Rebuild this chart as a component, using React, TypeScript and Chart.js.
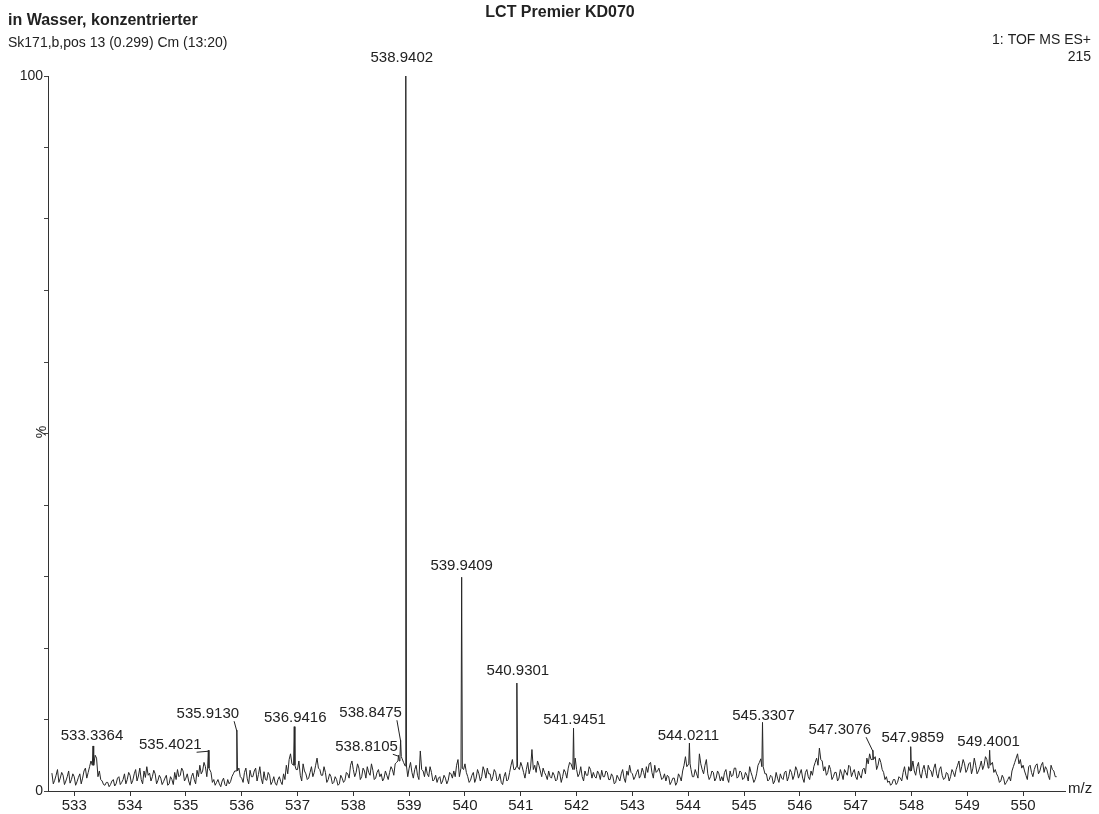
import React, { useEffect, useRef } from "react";
import { Chart, registerables } from "chart.js";

Chart.register(...registerables);

// ---------- DATA ----------
const titleLeft = "in Wasser, konzentrierter";
const subTitle = "Sk171,b,pos 13 (0.299) Cm (13:20)";
const titleCenter = "LCT Premier KD070";
const infoLine1 = "1: TOF MS ES+";
const infoLine2 = "215";
const yAxisTitle = "%";
const xAxisTitle = "m/z";

const xTickValues = [533, 534, 535, 536, 537, 538, 539, 540, 541, 542, 543, 544, 545, 546, 547, 548, 549, 550];
const yTickValues = [0, 10, 20, 30, 40, 50, 60, 70, 80, 90, 100];
const yTickLabelValues = [0, 100];

// baseline noise, sampled every 0.05 m/z from 532.600 to 550.600 (% intensity)
const noiseStart = 532.6;
const noiseStep = 0.05;
const noise = [
  2.5, 1.5, 3.0, 1.8, 2.2, 1.4, 2.8, 1.6, 2.0, 1.3, 2.4, 1.8, 3.2, 2.6, 4.2, 3.8, 4.6, 2.8, 1.4, 0.8,
  1.2, 0.9, 1.6, 1.0, 2.0, 1.2, 2.4, 1.6, 2.2, 1.5, 3.0, 2.1, 1.6, 2.8, 3.4, 2.5, 2.0, 2.4, 1.5, 1.8,
  1.3, 2.2, 1.0, 1.6, 2.6, 3.0, 2.2, 2.8, 1.8, 1.4, 2.0, 1.6, 2.9, 3.6, 2.8, 3.4, 3.8, 2.6, 1.6, 1.2,
  1.0, 1.4, 0.9, 1.6, 1.3, 2.4, 4.0, 3.2, 1.8, 2.6, 1.7, 2.9, 2.0, 3.2, 2.3, 1.8, 2.7, 1.5, 2.2, 1.3,
  1.1, 1.6, 1.3, 2.4, 3.6, 4.4, 3.8, 4.0, 3.0, 2.2, 3.8, 2.4, 1.8, 3.4, 2.6, 4.6, 3.0, 2.2, 2.6, 1.6,
  2.0, 1.2, 1.6, 1.0, 1.8, 1.5, 2.4, 3.6, 3.0, 2.6, 3.2, 2.0, 2.8, 3.4, 2.2, 2.9, 1.8, 3.0, 2.4, 1.8,
  2.2, 2.6, 3.0, 3.8, 4.5, 5.5, 4.0, 2.5, 3.2, 2.6, 3.0, 2.2, 5.6, 2.8, 3.4, 2.0, 2.6, 1.6, 1.2, 2.0,
  1.4, 1.8, 1.5, 2.4, 2.8, 3.6, 2.0, 3.0, 3.8, 2.0, 1.5, 2.6, 1.8, 2.4, 2.0, 2.8, 3.2, 2.4, 2.0, 2.6,
  1.6, 1.2, 2.0, 1.4, 2.6, 4.4, 3.0, 2.5, 4.0, 2.6, 3.0, 2.4, 5.8, 3.6, 4.2, 2.8, 3.2, 2.2, 2.8, 1.8,
  2.2, 1.6, 2.4, 2.0, 2.6, 3.2, 3.8, 3.0, 3.0, 2.4, 2.0, 2.8, 2.2, 3.0, 2.6, 1.8, 2.4, 2.9, 2.0, 2.6,
  1.6, 2.0, 1.2, 1.8, 2.4, 1.8, 2.8, 3.6, 2.4, 2.0, 3.0, 2.2, 2.6, 3.4, 3.8, 2.6, 3.6, 2.8, 2.4, 1.8,
  1.4, 2.0, 1.3, 1.8, 1.2, 2.0, 2.8, 4.8, 5.0, 3.0, 2.0, 2.4, 5.2, 3.0, 3.6, 2.4, 2.0, 2.6, 1.8, 2.4,
  2.0, 2.6, 1.8, 2.8, 2.2, 3.2, 2.0, 2.6, 1.8, 2.2, 3.4, 2.0, 1.6, 3.6, 4.5, 3.0, 2.4, 1.6, 2.0, 1.4,
  1.8, 2.4, 1.6, 2.8, 2.0, 2.6, 2.2, 2.9, 2.4, 1.8, 2.6, 2.0, 2.8, 3.4, 4.6, 6.0, 4.2, 3.4, 2.6, 3.0,
  2.0, 2.6, 1.8, 2.4, 3.0, 2.2, 3.4, 2.6, 2.0, 2.8, 1.8, 3.2, 4.6, 5.2, 5.0, 4.8, 3.6, 4.0, 2.6, 2.0,
  1.4, 1.0, 1.6, 1.2, 1.8, 2.6, 2.2, 3.4, 3.0, 2.8, 3.4, 2.4, 3.0, 2.6, 3.6, 2.8, 3.2, 2.4, 3.0, 2.2,
  1.8, 2.4, 2.0, 2.6, 3.0, 4.2, 3.4, 3.8, 3.0, 4.0, 3.2, 3.6, 2.8, 4.2, 3.6, 4.4, 4.0, 4.0, 3.0, 2.0,
  1.4, 1.8, 1.2, 2.0, 2.8, 4.0, 5.2, 4.4, 3.6, 2.2, 3.4, 2.6, 3.0, 3.8, 2.8, 4.0, 3.4, 2.2, 3.6, 2.8,
  2.0,
];
// in-between noise samples, at 532.625 + i*0.05 (% intensity)
const noiseMidStart = 532.625;
const noiseMid = [
  1.0, 2.2, 1.2, 2.6, 0.9, 2.0, 1.1, 2.4, 0.8, 1.9, 1.0, 2.8, 1.8, 3.4, 2.4, 5.0, 2.0, 1.6, 0.9, 1.2,
  0.6, 1.4, 0.7, 1.8, 0.9, 1.6, 1.0, 2.6, 1.0, 2.4, 1.4, 3.2, 1.0, 1.9, 2.2, 1.4, 2.9, 1.0, 2.2, 0.9,
  1.8, 0.8, 2.0, 0.9, 1.6, 2.0, 3.2, 1.4, 2.4, 0.8, 2.5, 1.0, 2.0, 2.4, 4.0, 2.0, 2.6, 1.2, 0.8, 1.6,
  0.6, 1.8, 0.7, 1.0, 2.0, 2.8, 5.0, 2.0, 1.2, 3.2, 1.0, 2.0, 2.8, 1.4, 3.4, 1.0, 1.6, 2.6, 0.9, 2.0,
  0.8, 2.0, 0.9, 1.6, 2.4, 5.2, 2.6, 3.0, 4.2, 1.4, 2.8, 1.6, 2.6, 2.0, 3.6, 3.2, 2.2, 3.4, 1.2, 2.4,
  1.0, 2.0, 0.8, 2.2, 1.2, 2.6, 1.8, 4.2, 2.0, 3.8, 1.6, 3.2, 1.8, 2.6, 3.8, 1.6, 2.6, 2.0, 1.4, 2.8,
  1.6, 3.4, 2.2, 4.0, 4.0, 4.5, 3.0, 2.0, 4.0, 1.8, 3.6, 1.6, 3.0, 2.0, 2.4, 3.4, 1.4, 2.2, 1.8, 1.0,
  2.2, 1.0, 2.6, 1.8, 2.0, 4.4, 2.5, 3.0, 2.6, 1.2, 2.2, 1.2, 3.0, 1.4, 3.4, 1.8, 2.4, 1.4, 3.0, 1.4,
  2.4, 0.9, 2.6, 1.6, 3.6, 3.0, 2.4, 3.0, 3.4, 1.8, 4.0, 3.2, 3.0, 2.6, 3.6, 2.0, 2.6, 1.6, 2.0, 2.6,
  1.4, 2.8, 1.2, 3.0, 1.8, 4.0, 3.0, 4.6, 2.0, 3.4, 1.4, 2.2, 3.4, 1.8, 2.0, 2.8, 1.6, 2.0, 2.8, 1.6,
  2.4, 1.0, 2.2, 1.4, 3.0, 1.2, 2.2, 2.6, 1.6, 2.6, 1.8, 3.2, 1.8, 2.6, 4.0, 1.8, 2.6, 3.2, 1.6, 2.4,
  2.2, 0.9, 1.8, 0.8, 2.4, 1.4, 3.6, 3.4, 4.2, 2.0, 3.0, 1.8, 3.8, 2.4, 4.4, 1.6, 2.8, 1.4, 2.8, 1.4,
  1.4, 3.0, 1.2, 2.0, 3.2, 1.8, 2.8, 1.6, 2.6, 1.4, 2.6, 1.2, 2.4, 4.0, 3.6, 2.4, 1.4, 2.2, 1.0, 2.6,
  1.2, 1.8, 2.6, 1.4, 3.0, 1.6, 3.4, 1.8, 3.0, 1.2, 3.0, 1.6, 2.2, 4.0, 3.6, 4.4, 2.8, 2.2, 3.6, 1.6,
  2.6, 1.4, 3.0, 1.6, 2.6, 3.6, 2.0, 3.0, 1.6, 2.2, 3.0, 2.4, 3.8, 4.4, 5.4, 3.0, 4.6, 3.0, 1.6, 1.2,
  0.8, 1.6, 0.9, 2.0, 1.4, 3.4, 1.6, 2.6, 4.2, 2.2, 4.0, 1.8, 3.6, 1.8, 3.0, 2.0, 3.8, 1.8, 3.4, 1.6,
  2.6, 1.4, 3.0, 2.0, 3.6, 2.6, 4.4, 2.6, 3.8, 2.4, 4.6, 2.4, 3.4, 3.0, 4.8, 3.2, 4.6, 2.6, 2.4, 1.2,
  2.2, 0.9, 1.6, 1.4, 3.4, 4.6, 3.8, 3.2, 2.8, 1.6, 3.6, 2.0, 3.6, 2.4, 3.6, 2.6, 3.0, 1.6, 3.0, 2.0,
];

// labelled peaks
const peakMz = [533.3364, 535.4021, 535.913, 536.9416, 538.8105, 538.8475, 538.9402, 539.9409, 540.9301, 541.9451, 544.0211, 545.3307, 547.3076, 547.9859, 549.4001];
const peakIntensity = [6.3, 5.7, 8.5, 9.0, 5.0, 7.1, 100, 29.9, 15.1, 8.8, 6.7, 9.6, 5.7, 6.2, 5.7];
const peakBase = [3.6, 3.2, 2.8, 3.6, 4.2, 4.8, 3.5, 3.2, 3.4, 3.0, 3.8, 3.4, 4.4, 2.8, 3.6];
const peakLabels = ["533.3364", "535.4021", "535.9130", "536.9416", "538.8105", "538.8475", "538.9402", "539.9409", "540.9301", "541.9451", "544.0211", "545.3307", "547.3076", "547.9859", "549.4001"];

// label placement (pixels, relative to the peak apex) – styling only
const labelDx = [-1, -38, -29, 1, -32, -30, -4, 0, 1, 1, -1, 1, -33, 2, -1];
const labelDy = [-10, -5, -16, -9, -8, -27, -18, -11, -12, -8, -7, -7, -20, -9, -8];
const labelLeader = [false, true, true, false, true, true, false, false, false, false, false, false, true, false, false];

const FONT = "Arial, 'Liberation Sans', sans-serif";
const INK = "#222";

function buildPoints() {
  const pts: { x: number; y: number }[] = [];
  const near = (x: number) => peakMz.some((p) => Math.abs(p - x) < 0.025);
  noise.forEach((v, i) => {
    const x = noiseStart + i * noiseStep;
    if (!near(x)) pts.push({ x, y: v });
  });
  noiseMid.forEach((v, i) => {
    const x = noiseMidStart + i * noiseStep;
    if (!near(x)) pts.push({ x, y: v });
  });
  peakMz.forEach((m, i) => {
    pts.push({ x: m - 0.012, y: peakBase[i] });
    pts.push({ x: m, y: peakIntensity[i] });
    pts.push({ x: m + 0.012, y: peakBase[i] });
  });
  pts.sort((a, b) => a.x - b.x);
  return pts;
}

const annotPlugin = {
  id: "annot",
  afterDraw(chart: any) {
    const ctx = chart.ctx as CanvasRenderingContext2D;
    const xs = chart.scales.x;
    const ys = chart.scales.y;
    ctx.save();
    ctx.fillStyle = INK;
    ctx.strokeStyle = INK;

    // headers
    ctx.textBaseline = "middle";
    ctx.textAlign = "left";
    ctx.font = `bold 16px ${FONT}`;
    ctx.fillText(titleLeft, 8, 21);
    ctx.font = `14px ${FONT}`;
    ctx.fillText(subTitle, 8, 43);
    ctx.textAlign = "center";
    ctx.font = `bold 16px ${FONT}`;
    ctx.fillText(titleCenter, 560, 13);
    ctx.textAlign = "right";
    ctx.font = `14px ${FONT}`;
    ctx.fillText(infoLine1, 1091, 40);
    ctx.fillText(infoLine2, 1091, 57);

    // axis titles
    ctx.textAlign = "left";
    ctx.font = `15px ${FONT}`;
    ctx.fillText(xAxisTitle, 1068, 789);
    ctx.save();
    ctx.translate(42, 432);
    ctx.rotate(-Math.PI / 2);
    ctx.textAlign = "center";
    ctx.font = `14px ${FONT}`;
    ctx.fillText(yAxisTitle, 0, 0);
    ctx.restore();

    // peak labels
    ctx.font = `15px ${FONT}`;
    ctx.textAlign = "center";
    ctx.lineWidth = 1;
    peakMz.forEach((m, i) => {
      const px = xs.getPixelForValue(m);
      const py = ys.getPixelForValue(peakIntensity[i]);
      const lx = px + labelDx[i];
      const ly = py + labelDy[i];
      ctx.fillText(peakLabels[i], lx, ly);
      if (labelLeader[i]) {
        const w = ctx.measureText(peakLabels[i]).width;
        ctx.beginPath();
        ctx.moveTo(lx + w / 2 - 5, ly + 7);
        ctx.lineTo(px, py + 1);
        ctx.stroke();
      }
    });
    ctx.restore();
  },
};

export default function App() {
  const ref = useRef<HTMLCanvasElement | null>(null);

  useEffect(() => {
    document.body.style.margin = "0";
    document.body.style.background = "#fff";
    if (!ref.current) return;
    const chart = new Chart(ref.current, {
      type: "line",
      data: {
        datasets: [
          {
            data: buildPoints(),
            borderColor: "#262626",
            borderWidth: 1,
            pointRadius: 0,
            tension: 0,
            fill: false,
          },
        ],
      },
      options: {
        animation: false,
        responsive: false,
        devicePixelRatio: 1,
        parsing: false as any,
        layout: { padding: { left: 0, top: 76, right: 34, bottom: 0 } },
        plugins: { legend: { display: false }, tooltip: { enabled: false }, title: { display: false } },
        scales: {
          x: {
            type: "linear",
            min: 532.53,
            max: 550.75,
            afterBuildTicks: (scale: any) => {
              scale.ticks = xTickValues.map((v) => ({ value: v }));
            },
            afterFit: (scale: any) => {
              scale.height = 23;
            },
            ticks: {
              autoSkip: false,
              maxRotation: 0,
              padding: 1,
              color: INK,
              font: { family: FONT, size: 15 },
              callback: (v: any) => String(v),
            },
            grid: { drawOnChartArea: false, drawTicks: true, tickLength: 5, color: "#333" },
            border: { display: true, color: "#333", width: 1 },
          },
          y: {
            type: "linear",
            min: 0,
            max: 100,
            afterBuildTicks: (scale: any) => {
              scale.ticks = yTickValues.map((v) => ({ value: v }));
            },
            afterFit: (scale: any) => {
              scale.width = 48;
            },
            ticks: {
              autoSkip: false,
              padding: 1,
              color: INK,
              font: { family: FONT, size: 14 },
              callback: (v: any) => (yTickLabelValues.includes(v) ? String(v) : ""),
            },
            grid: { drawOnChartArea: false, drawTicks: true, tickLength: 4, color: "#444" },
            border: { display: true, color: "#333", width: 1 },
          },
        },
      } as any,
      plugins: [annotPlugin],
    });
    return () => chart.destroy();
  }, []);

  return (
    <div style={{ width: 1099, height: 814, background: "#fff" }}>
      <canvas ref={ref} width={1099} height={814} style={{ display: "block", width: 1099, height: 814 }} />
    </div>
  );
}
